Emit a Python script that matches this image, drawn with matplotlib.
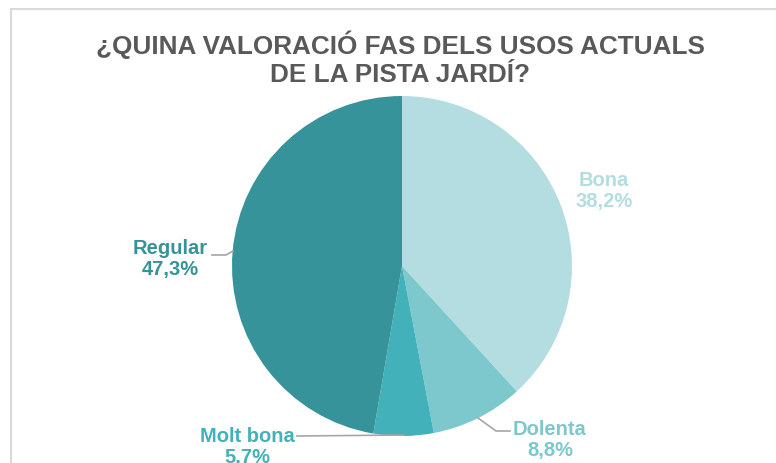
import matplotlib.pyplot as plt
from matplotlib.patches import Rectangle

plt.rcParams['font.family'] = ['Liberation Sans', 'DejaVu Sans']

labels = ["Bona", "Dolenta", "Molt bona", "Regular"]
values = [38.2, 8.8, 5.7, 47.3]
pct_text = ["38,2%", "8,8%", "5.7%", "47,3%"]
colors = ["#b4dde1", "#7dc8cd", "#43b1b9", "#36939a"]

W, H = 776, 464
fig = plt.figure(figsize=(W / 100, H / 100), dpi=100)
ax = fig.add_axes([0, 0, 1, 1])

# pie in pixel coords (y up)
cx, cy, r = 402, H - 267, 170
ax.pie(values, colors=colors, startangle=90, counterclock=False,
       center=(cx, cy), radius=r, frame=True,
       wedgeprops=dict(linewidth=0))
ax.set_xlim(0, W)
ax.set_ylim(0, H)
ax.set_aspect('auto')
ax.axis('off')

# chart border (cut at right and bottom)
ax.add_patch(Rectangle((11, -20), W + 20, H - 10 + 20, fill=False,
                       edgecolor="#d9d9d9", linewidth=1.5))

ax.text(400, H - 45, "¿QUINA VALORACIÓ FAS DELS USOS ACTUALS",
        ha='center', va='center', fontsize=18.8, fontweight='bold', color="#595959")
ax.text(400, H - 75, "DE LA PISTA JARDÍ?",
        ha='center', va='center', fontsize=18.8, fontweight='bold', color="#595959")

# data labels: position (px) and leader line
lab_pos = [(604, 191), (550, 440), (247, 447), (170, 259)]
leaders = [None, [(478, 419), (496, 432), (510, 432)],
           [(403, 436), (297, 437)], [(233, 252), (226, 256), (212, 256)]]
for i in range(len(labels)):
    x, y = lab_pos[i]
    ax.text(x, H - y, labels[i] + "\n" + pct_text[i], ha='center', va='center',
            fontsize=14.5, fontweight='bold', color=colors[i], linespacing=1.15)
    if leaders[i]:
        xs = [p[0] for p in leaders[i]]
        ys = [H - p[1] for p in leaders[i]]
        ax.plot(xs, ys, color="#a6a6a6", linewidth=1.2)

fig.savefig("out.png", dpi=100)
